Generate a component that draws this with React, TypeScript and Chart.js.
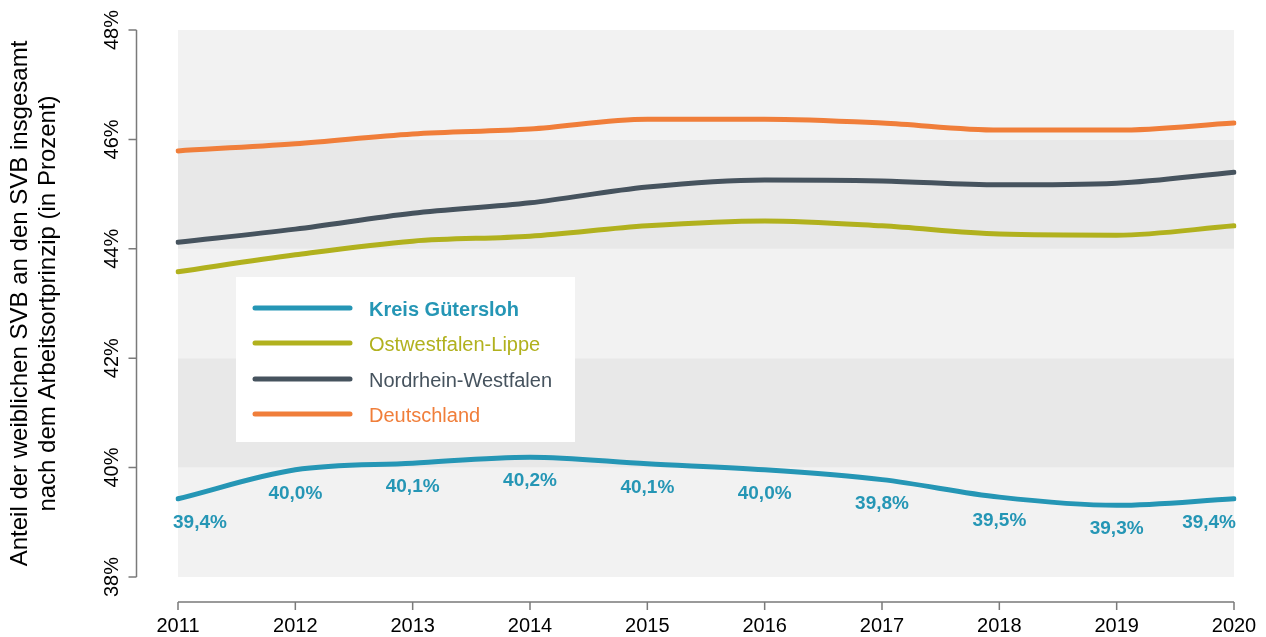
import React, { useEffect, useRef } from "react";
import { Chart, registerables } from "chart.js";

Chart.register(...registerables);

const years = ["2011", "2012", "2013", "2014", "2015", "2016", "2017", "2018", "2019", "2020"];
const guetersloh = [39.43, 39.96, 40.08, 40.19, 40.07, 39.96, 39.78, 39.46, 39.31, 39.43];
const owl = [43.58, 43.89, 44.14, 44.23, 44.42, 44.51, 44.42, 44.27, 44.25, 44.42];
const nrw = [44.12, 44.36, 44.65, 44.84, 45.13, 45.26, 45.24, 45.17, 45.2, 45.4];
const deutschland = [45.79, 45.92, 46.1, 46.19, 46.37, 46.37, 46.3, 46.17, 46.17, 46.3];
const gueterslohLabels = ["39,4%", "40,0%", "40,1%", "40,2%", "40,1%", "40,0%", "39,8%", "39,5%", "39,3%", "39,4%"];
const yTicks = [38, 40, 42, 44, 46, 48];
const yTickLabels = ["38%", "40%", "42%", "44%", "46%", "48%"];
const bands = [
  [38, 40, "#f2f2f2"],
  [40, 42, "#e8e8e8"],
  [42, 44, "#f2f2f2"],
  [44, 46, "#e8e8e8"],
  [46, 48, "#f2f2f2"],
] as const;
const titleLines = ["Anteil der weiblichen SVB an den SVB insgesamt", "nach dem Arbeitsortprinzip (in Prozent)"];

const C_GT = "#2596b5";
const C_OWL = "#b1b11e";
const C_NRW = "#46535e";
const C_DE = "#f07e3a";
const FONT = "'Liberation Sans', Arial, sans-serif";

const decorPlugin = {
  id: "decor",
  beforeDatasetsDraw(chart: any) {
    const { ctx, chartArea, scales } = chart;
    const y = scales.y;
    ctx.save();
    for (const [a, b, col] of bands) {
      const y1 = y.getPixelForValue(b);
      const y2 = y.getPixelForValue(a);
      ctx.fillStyle = col;
      ctx.fillRect(chartArea.left, y1, chartArea.right - chartArea.left, y2 - y1);
    }
    ctx.restore();
  },
  afterDatasetsDraw(chart: any) {
    const { ctx, chartArea, scales } = chart;
    const x = scales.x;
    const y = scales.y;
    ctx.save();
    // axes
    ctx.strokeStyle = "#7a7a7a";
    ctx.lineWidth = 1.5;
    const axX = chartArea.left - 41.5;
    ctx.beginPath();
    ctx.moveTo(axX, y.getPixelForValue(48));
    ctx.lineTo(axX, y.getPixelForValue(38));
    yTicks.forEach((v) => {
      const py = y.getPixelForValue(v);
      ctx.moveTo(axX - 8, py);
      ctx.lineTo(axX, py);
    });
    const axY = chartArea.bottom + 25;
    ctx.moveTo(x.getPixelForValue(0), axY);
    ctx.lineTo(x.getPixelForValue(years.length - 1), axY);
    years.forEach((_, i) => {
      const px = x.getPixelForValue(i);
      ctx.moveTo(px, axY);
      ctx.lineTo(px, axY + 8);
    });
    ctx.stroke();

    // x labels
    ctx.fillStyle = "#000";
    ctx.font = `20px ${FONT}`;
    ctx.textAlign = "center";
    ctx.textBaseline = "alphabetic";
    years.forEach((lab, i) => {
      ctx.fillText(lab, x.getPixelForValue(i), axY + 30);
    });

    // y labels rotated
    yTicks.forEach((v, i) => {
      const py = y.getPixelForValue(v);
      ctx.save();
      ctx.translate(117.5, py);
      ctx.rotate(-Math.PI / 2);
      ctx.textAlign = "center";
      ctx.fillText(yTickLabels[i], 0, 0);
      ctx.restore();
    });

    // y title
    ctx.font = `24px ${FONT}`;
    const cy = (chartArea.top + chartArea.bottom) / 2;
    [27, 55].forEach((bx, i) => {
      ctx.save();
      ctx.translate(bx, cy);
      ctx.rotate(-Math.PI / 2);
      ctx.textAlign = "center";
      ctx.fillText(titleLines[i], 0, 0);
      ctx.restore();
    });

    // data labels
    const meta = chart.getDatasetMeta(0);
    ctx.fillStyle = C_GT;
    ctx.font = `bold 19px ${FONT}`;
    meta.data.forEach((pt: any, i: number) => {
      let px = pt.x;
      if (i === 0) {
        ctx.textAlign = "left";
        px = pt.x - 5;
      } else if (i === meta.data.length - 1) {
        ctx.textAlign = "right";
        px = pt.x + 2;
      } else {
        ctx.textAlign = "center";
      }
      ctx.fillText(gueterslohLabels[i], px, pt.y + 29);
    });

    // legend
    ctx.fillStyle = "#ffffff";
    ctx.fillRect(236, 277, 339, 165);
    const ys = [308, 343, 379, 414];
    chart.data.datasets.forEach((ds: any, i: number) => {
      ctx.strokeStyle = ds.borderColor;
      ctx.lineWidth = 5;
      ctx.lineCap = "round";
      ctx.beginPath();
      ctx.moveTo(255, ys[i]);
      ctx.lineTo(350, ys[i]);
      ctx.stroke();
      ctx.fillStyle = ds.borderColor;
      ctx.font = i === 0 ? `bold 20px ${FONT}` : `20px ${FONT}`;
      ctx.textAlign = "left";
      ctx.fillText(ds.label, 369, ys[i] + 8);
    });
    ctx.restore();
  },
};

export default function App() {
  const ref = useRef<HTMLCanvasElement>(null);
  useEffect(() => {
    if (!ref.current) return;
    const mk = (label: string, data: number[], color: string) => ({
      label,
      data,
      borderColor: color,
      backgroundColor: color,
      borderWidth: 5,
      pointRadius: 0,
      borderCapStyle: "round" as const,
      borderJoinStyle: "round" as const,
      cubicInterpolationMode: "monotone" as const,
      fill: false,
    });
    const chart = new Chart(ref.current, {
      type: "line",
      data: {
        labels: years,
        datasets: [
          mk("Kreis Gütersloh", guetersloh, C_GT),
          mk("Ostwestfalen-Lippe", owl, C_OWL),
          mk("Nordrhein-Westfalen", nrw, C_NRW),
          mk("Deutschland", deutschland, C_DE),
        ],
      },
      options: {
        responsive: false,
        animation: false,
        devicePixelRatio: 1,
        layout: { padding: { left: 178, right: 32, top: 30, bottom: 60 } },
        plugins: { legend: { display: false }, tooltip: { enabled: false } },
        scales: {
          x: { display: false, offset: false },
          y: { display: false, min: 38, max: 48 },
        },
      },
      plugins: [decorPlugin],
    });
    return () => chart.destroy();
  }, []);
  return (
    <div style={{ position: "absolute", left: 0, top: 0, width: 1266, height: 637, background: "#fff" }}>
      <canvas ref={ref} width={1266} height={637} style={{ display: "block" }} />
    </div>
  );
}
